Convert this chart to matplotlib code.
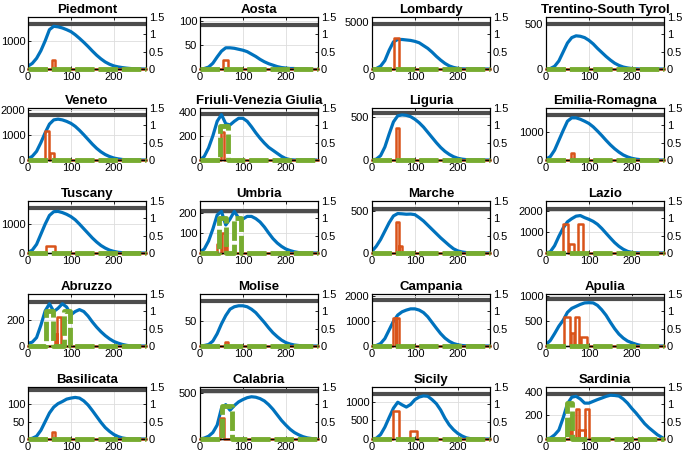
import matplotlib
matplotlib.use('Agg')
import matplotlib.pyplot as plt

plt.rcParams['font.family'] = ['Liberation Sans', 'DejaVu Sans']

regions = ['Piedmont', 'Aosta', 'Lombardy', 'Trentino-South Tyrol',
           'Veneto', 'Friuli-Venezia Giulia', 'Liguria', 'Emilia-Romagna',
           'Tuscany', 'Umbria', 'Marche', 'Lazio',
           'Abruzzo', 'Molise', 'Campania', 'Apulia',
           'Basilicata', 'Calabria', 'Sicily', 'Sardinia']

days = list(range(0, 280, 10))  # 0 .. 270

icu = {
    'Piedmont': [100, 200, 380, 650, 1000, 1400, 1520, 1500, 1460, 1400, 1330, 1220, 1090, 950, 800, 640, 490, 360, 250, 170, 110, 75, 50, 30, 15, 8, 3, 0],
    'Aosta': [0, 1, 4, 12, 25, 37, 44, 44, 43, 41, 39, 36, 31, 26, 20, 15, 11, 8, 5, 3, 2, 1, 1, 0, 0, 0, -1, -1],
    'Lombardy': [0, 50, 300, 900, 2000, 2900, 3150, 3150, 3100, 3050, 2950, 2800, 2500, 2200, 1800, 1350, 950, 600, 330, 170, 70, 20, 5, 0, 0, 0, 0, 0],
    'Trentino-South Tyrol': [0, 5, 30, 90, 190, 290, 350, 370, 365, 350, 320, 280, 230, 185, 140, 100, 65, 40, 22, 12, 5, 2, 0, 0, 0, 0, 0, 0],
    'Veneto': [50, 150, 350, 700, 1100, 1450, 1620, 1650, 1620, 1560, 1480, 1360, 1200, 1020, 830, 640, 470, 330, 220, 140, 80, 45, 20, 8, 3, 0, 0, 0],
    'Friuli-Venezia Giulia': [0, 30, 100, 200, 320, 375, 300, 290, 320, 345, 345, 320, 275, 225, 180, 140, 105, 80, 55, 30, 12, 3, 0, 0, 0, 0, 0, 0],
    'Liguria': [0, 10, 50, 150, 300, 440, 510, 520, 515, 500, 470, 430, 380, 320, 260, 200, 145, 100, 65, 38, 20, 10, 4, 0, 0, 0, 0, 0],
    'Emilia-Romagna': [30, 120, 350, 700, 1050, 1380, 1500, 1500, 1450, 1380, 1300, 1180, 1030, 870, 700, 540, 400, 280, 180, 110, 60, 30, 12, 4, 0, 0, 0, 0],
    'Tuscany': [20, 100, 300, 650, 1000, 1300, 1430, 1440, 1400, 1340, 1260, 1150, 1000, 840, 680, 520, 380, 260, 170, 100, 55, 25, 10, 3, 0, 0, 0, 0],
    'Umbria': [5, 20, 60, 120, 190, 208, 140, 170, 208, 175, 170, 183, 183, 172, 155, 130, 100, 72, 50, 33, 20, 12, 6, 2, 0, 0, 0, 0],
    'Marche': [20, 80, 160, 260, 360, 440, 468, 465, 460, 462, 455, 420, 380, 330, 280, 230, 180, 135, 90, 50, 25, 12, 5, 0, 0, 0, 0, 0],
    'Lazio': [0, 60, 350, 800, 1200, 1500, 1650, 1770, 1800, 1700, 1620, 1520, 1380, 1180, 950, 720, 500, 320, 180, 80, 30, 10, 0, 0, 0, 0, 0, 0],
    'Abruzzo': [20, 30, 65, 160, 270, 325, 265, 290, 325, 300, 240, 265, 280, 265, 230, 185, 145, 110, 80, 55, 35, 22, 12, 5, 0, 0, 0, 0],
    'Molise': [0, 1, 3, 10, 25, 45, 62, 75, 80, 82, 82, 80, 75, 68, 58, 48, 37, 27, 19, 12, 7, 4, 2, 1, 0, 0, 0, 0],
    'Campania': [0, 20, 100, 300, 650, 1000, 1250, 1380, 1450, 1500, 1500, 1450, 1350, 1180, 950, 720, 500, 320, 190, 100, 50, 20, 6, 0, 0, 0, 0, 0],
    'Apulia': [30, 110, 250, 400, 520, 680, 760, 800, 840, 870, 875, 870, 820, 730, 620, 480, 350, 240, 160, 100, 65, 35, 12, 3, 0, 0, 0, 0],
    'Basilicata': [0, 2, 8, 25, 50, 75, 92, 102, 108, 115, 118, 120, 118, 110, 98, 82, 65, 48, 33, 22, 13, 7, 3, 1, 0, 0, 0, 0],
    'Calabria': [0, 10, 30, 70, 150, 330, 370, 310, 360, 400, 425, 445, 455, 450, 435, 410, 370, 320, 260, 200, 150, 105, 70, 45, 25, 12, 5, 0],
    'Sicily': [0, 20, 120, 320, 580, 830, 990, 920, 860, 930, 1060, 1130, 1160, 1150, 1060, 950, 780, 560, 380, 250, 150, 80, 30, 8, 0, 0, 0, 0],
    'Sardinia': [0, 8, 35, 76, 180, 300, 355, 363, 340, 305, 305, 320, 335, 348, 362, 372, 370, 365, 340, 305, 260, 220, 175, 130, 95, 65, 35, 14],
}

ymax = [1850, 108, 5550, 580, 2100, 430, 600, 1850, 1800, 260, 617, 2500,
        400, 106, 2100, 1050, 150, 560, 1400, 442]
yticks = [[0, 1000], [0, 50, 100], [0, 5000], [0, 500],
          [0, 1000, 2000], [0, 200, 400], [0, 500], [0, 1000],
          [0, 1000], [0, 100, 200], [0, 500], [0, 1000, 2000],
          [0, 200], [0, 50], [0, 1000, 2000], [0, 500, 1000],
          [0, 50, 100], [0, 500], [0, 500, 1000], [0, 200, 400]]
capacity = [1590, 92, 4800, 500, 1800, 380, 545, 1600, 1550, 211, 520, 2100,
            340, 92, 1850, 940, 140, 520, 1200, 380]

# control pulses on the right axis: (start day, end day, level)
orange_pulses = {
    'Piedmont': [(55, 62, 0.25)],
    'Aosta': [(54, 66, 0.25)],
    'Lombardy': [(52, 62, 0.9)],
    'Trentino-South Tyrol': [],
    'Veneto': [(40, 48, 0.85), (52, 60, 0.2)],
    'Friuli-Venezia Giulia': [(49, 55, 0.82)],
    'Liguria': [(55, 62, 0.93)],
    'Emilia-Romagna': [(58, 65, 0.2)],
    'Tuscany': [(42, 62, 0.2)],
    'Umbria': [(40, 50, 0.25), (52, 58, 0.58), (58, 64, 0.25)],
    'Marche': [(56, 63, 0.9), (63, 69, 0.2)],
    'Lazio': [(40, 52, 0.83), (53, 65, 0.26), (75, 86, 0.83)],
    'Abruzzo': [(62, 68, 0.35), (68, 77, 0.85)],
    'Molise': [(58, 65, 0.12)],
    'Campania': [(48, 55, 0.82), (57, 64, 0.82)],
    'Apulia': [(42, 57, 0.84), (58, 66, 0.37), (67, 78, 0.84), (81, 95, 0.26)],
    'Basilicata': [(55, 62, 0.2)],
    'Calabria': [(47, 57, 0.6)],
    'Sicily': [(48, 64, 0.82), (89, 105, 0.22)],
    'Sardinia': [(56, 60, 0.6), (70, 78, 0.86), (78, 90, 0.27), (90, 100, 0.86)],
}
green_pulses = {
    'Friuli-Venezia Giulia': [(46, 66, 0.98)],
    'Umbria': [(44, 60, 1.0), (79, 95, 1.0)],
    'Abruzzo': [(42, 58, 1.0), (85, 97, 1.0)],
    'Calabria': [(52, 75, 0.95)],
    'Sardinia': [(49, 61, 1.05)],
}

XMAX = 275
BLUE = '#0072BD'
ORANGE = '#D95319'
GREEN = '#77AC30'
GRAY = '#4D4D4D'

col_left = [28, 200, 372, 546]
row_top = [17, 108, 201, 294, 387]
W_PX, H_PX = 118, 52
FW, FH = 683, 454


def step_path(pulses):
    xs, ys = [0], [0]
    for s, e, h in pulses:
        xs += [s, s, e, e]
        ys += [0, h, h, 0]
    xs.append(XMAX)
    ys.append(0)
    return xs, ys


fig = plt.figure(figsize=(FW / 100, FH / 100), dpi=100)

for i, name in enumerate(regions):
    r, c = divmod(i, 4)
    ax = fig.add_axes([col_left[c] / FW, 1 - (row_top[r] + H_PX) / FH,
                       W_PX / FW, H_PX / FH])
    ax.set_xlim(0, XMAX)
    ax.set_ylim(0, ymax[i])
    ax.set_yticks(yticks[i])
    ax.set_yticklabels([str(v) for v in yticks[i]])
    ax.set_xticks([0, 100, 200])
    ax.grid(True, color='#DDDDDD', lw=0.6)
    ax.set_axisbelow(True)
    ax.axhline(capacity[i], color=GRAY, lw=3.0, zorder=2)
    ax.plot(days, icu[name], color=BLUE, lw=2.3, zorder=3, clip_on=True)
    ax.tick_params(direction='in', length=2.5, width=0.6, labelsize=8,
                   top=True, pad=2)
    ax.set_title(name, fontsize=9.5, fontweight='bold', pad=3)

    ax2 = ax.twinx()
    ax2.set_ylim(0, 1.5)
    ax2.set_yticks([0, 0.5, 1, 1.5])
    ax2.set_yticklabels(['0', '0.5', '1', '1.5'])
    ax2.tick_params(direction='in', length=2.5, width=0.6, labelsize=8, pad=2)
    ox, oy = step_path(orange_pulses.get(name, []))
    ax2.plot(ox, oy, color=ORANGE, lw=1.8, zorder=3, clip_on=False)
    ax2.plot([0, XMAX], [0, 0], color='black', lw=1.0, zorder=4,
             clip_on=False)
    gx, gy = step_path(green_pulses.get(name, []))
    ax2.plot(gx, gy, color=GREEN, lw=3.5, ls=(0, (4, 0.8)), zorder=5,
             clip_on=False)
    ax2.set_xlim(0, XMAX)
    for a in (ax, ax2):
        for sp in a.spines.values():
            sp.set_linewidth(0.8)

fig.savefig('out.png', dpi=100)
